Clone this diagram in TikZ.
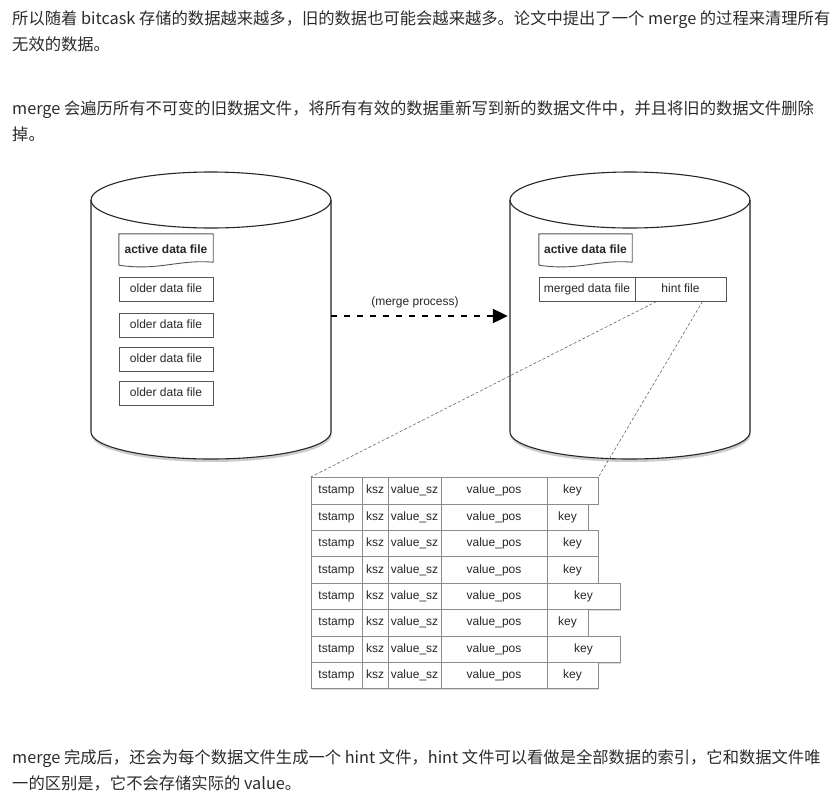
\documentclass[tikz,border=0pt]{standalone}
\usepackage{fontspec}
\setmainfont{Liberation Sans}
\newfontfamily\cjk{Noto Sans CJK SC}
\usetikzlibrary{shadows,calc,arrows.meta}
\definecolor{txt}{HTML}{2B2B2B}
\definecolor{edge}{HTML}{555555}
\begin{document}
\begin{tikzpicture}[x=1pt,y=1pt,
  para/.style={anchor=base west,inner sep=0pt,text=txt,font=\cjk\fontsize{16.3}{19}\selectfont},
  cyl/.style={draw=black!85,line width=1.1pt,fill=white,drop shadow={shadow xshift=0.5pt,shadow yshift=-3pt,opacity=0.4}},
  filebox/.style={draw=edge,line width=0.9pt,fill=white,inner sep=0pt,minimum height=24pt,text height=8.6pt,text depth=2.4pt,text=black!85,font=\fontsize{12}{12}\selectfont},
  docbox/.style={inner sep=0pt,minimum width=94pt,minimum height=32pt,text height=8.6pt,text depth=2.4pt,text=black!85,font=\bfseries\fontsize{12}{12}\selectfont},
  cell/.style={draw=black!45,line width=0.8pt,inner sep=0pt,minimum height=26.4pt,text height=8.6pt,text depth=2.4pt,text=black!85,font=\fontsize{12}{12}\selectfont},
  ghost/.style={inner sep=0pt,minimum width=240pt,minimum height=232pt},
  hintline/.style={draw=black!60,line width=0.6pt,dash pattern=on 3pt off 2pt},
  mergearrow/.style={draw=black,line width=2.2pt,dash pattern=on 6pt off 7pt,-{Triangle[length=15pt,width=14pt]}}
]
\useasboundingbox (0,0) rectangle (839,-796);

% paragraph text
\node[para] (p1) at (12,-24) {所以随着 bitcask 存储的数据越来越多，旧的数据也可能会越来越多。论文中提出了一个 merge 的过程来清理所有};
\node[para] (p2) at (12,-50) {无效的数据。};
\node[para] (p3) at (12,-114) {merge 会遍历所有不可变的旧数据文件，将所有有效的数据重新写到新的数据文件中，并且将旧的数据文件删除};
\node[para] (p4) at (12,-140) {掉。};
\node[para] (p5) at (12,-763) {merge 完成后，还会为每个数据文件生成一个 hint 文件，hint 文件可以看做是全部数据的索引，它和数据文件唯};
\node[para] (p6) at (12,-789) {一的区别是，它不会存储实际的 value。};

% cylinders
\foreach \cx in {211,630}{
  \draw[cyl] (\cx-120,-200) -- (\cx-120,-432) arc[start angle=180,end angle=360,x radius=120,y radius=27]
     -- (\cx+120,-200) arc[start angle=0,end angle=180,x radius=120,y radius=28] -- cycle;
  \draw[black!85,line width=1.1pt] (\cx-120,-200) arc[start angle=180,end angle=360,x radius=120,y radius=28];
}
\node[ghost] (lcyl) at (211,-316) {};
\node[ghost] (rcyl) at (630,-316) {};

% left cylinder files
\node[docbox] (lact) at (166,-250) {active data file};
\draw[edge,line width=0.9pt] ($(lact.south west)+(0,1)$) -- (lact.north west) -- (lact.north east) -- ($(lact.south east)+(0,4)$)
   .. controls ($(lact.south east)+(-35,7)$) and ($(lact.south west)+(40,-5)$) .. ($(lact.south west)+(0,1)$);
\node[filebox,minimum width=94pt] (lo1) at (166,-289) {older data file};
\node[filebox,minimum width=94pt] (lo2) at (166,-325) {older data file};
\node[filebox,minimum width=94pt] (lo3) at (166,-359) {older data file};
\node[filebox,minimum width=94pt] (lo4) at (166,-393.5) {older data file};

% right cylinder files
\node[docbox,minimum width=93pt] (ract) at (585.5,-250) {active data file};
\draw[edge,line width=0.9pt] ($(ract.south west)+(0,1)$) -- (ract.north west) -- (ract.north east) -- ($(ract.south east)+(0,4)$)
   .. controls ($(ract.south east)+(-35,7)$) and ($(ract.south west)+(40,-5)$) .. ($(ract.south west)+(0,1)$);
\node[filebox,minimum width=96pt] (merged) at (587,-289) {merged data file};
\node[filebox,minimum width=91pt] (hint) at (680.5,-289) {hint file};

% merge arrow
\draw[mergearrow] (lcyl.east) -- ($(rcyl.west)+(-2,0)$);
\node[inner sep=0pt,text=black!85,font=\fontsize{12}{12}\selectfont] (mlabel) at (415,-302) {(merge process)};

% table
\foreach \i/\kr in {1/598,2/588,3/598,4/598,5/620,6/588,7/620,8/598}{
  \pgfmathsetmacro{\yc}{-477.5-26.4*(\i-0.5)}
  \fill[white,drop shadow={shadow xshift=1pt,shadow yshift=-1.5pt,opacity=0.3}] (311,\yc+13.2) rectangle (\kr,\yc-13.2);
  \node[cell,minimum width=51pt] (t\i a) at (336.5,\yc) {tstamp};
  \node[cell,minimum width=26pt] (t\i b) at (375,\yc) {ksz};
  \node[cell,minimum width=53pt] (t\i c) at (414.5,\yc) {value\_sz};
  \node[cell,minimum width=106pt] (t\i d) at (494,\yc) {value\_pos};
  \pgfmathsetmacro{\kw}{\kr-547}
  \pgfmathsetmacro{\kc}{(\kr+547)/2}
  \node[cell,minimum width=\kw pt] (t\i e) at (\kc,\yc) {key};
}

% hint file connectors
\draw[hintline] ($(hint.south west)+(22,0)$) -- (t1a.north west);
\draw[hintline] ($(hint.south west)+(68,0)$) -- (t1e.north east);
\end{tikzpicture}
\end{document}
